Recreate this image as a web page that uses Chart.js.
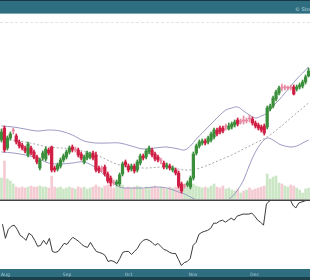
<!DOCTYPE html>
<html><head><meta charset="utf-8">
<script src="https://cdn.jsdelivr.net/npm/chart.js@4.4.1/dist/chart.umd.min.js"></script>
<style>
html,body{margin:0;padding:0;width:310px;height:280px;overflow:hidden;background:#fff;font-family:"DejaVu Sans",sans-serif}
.abs{position:absolute;left:0;width:310px}
#hdr{top:0;height:14px;background:#2f6e80;border-top:1px solid #163945;box-sizing:border-box}
#hdr2{top:13px;height:1px;background:#7ea6b2}
#htxt{position:absolute;left:295px;top:7px;font-size:5px;line-height:5px;color:#bcd6de;white-space:nowrap}
#leg{top:22px;height:0;border-top:1px dashed #e4e4e4}
#main{top:15px;height:184px}
#sep1{top:199px;height:1px;background:#9a9a9a}
#sep2{top:200px;height:1px;background:#444}
#ftr{top:269px;height:11px;background:#2f6e80}
#ftr2{top:277px;height:3px;background:#1b3f4b}
#low{top:201px;height:79px;z-index:2}
canvas{display:block}
</style></head>
<body>
<div class="abs" id="hdr"></div>
<div class="abs" id="hdr2"></div>
<div id="htxt">© StockCharts.com</div>
<div class="abs" id="leg"></div>
<div class="abs" id="sep1"></div>
<div class="abs" id="sep2"></div>
<div class="abs" id="ftr"></div>
<div class="abs" id="ftr2"></div>
<div class="abs" id="main"><canvas id="c1" width="310" height="184"></canvas></div>
<div class="abs" id="low"><canvas id="c2" width="310" height="79"></canvas></div>
<script>
// ---- data ----
const opens = [60,72,52,62,69,64,58,55,52,45, 52,48,43,32,42,41,50,53,32,31, 34,40,43,48,53,50,50,46,38,42, 43,47,45,32,31,33,26,22,18,16, 16,26,38,34,31,34,30,37,44,43, 48,50,46,43,39,37,33,34,30,30, 27,16,14,15,13,22,47,54,57,59, 58,60,63,70,72,72,73,71,73,75, 80,78,80,79,82,81,77,75,73,74, 73,91,94,101,107,113,112,112,113,113, 111,113,114,118,124];
const closes = [68,50,62,66,69.5,58,54,52,49,56, 47,43,38,40,47,51,47,30,30,35, 40,44,48,52,50,51,45,42,43,47, 46,42,30,29,31.5,26,19,17,17,18, 25,36,35,30,34,29,38,44,42,49, 52,45,41,40,39.5,33,35,32,32,27, 14,9,14.5,17,22,46,54,58,59,57, 62,66,70,66,68,69,73.5,74,76,78, 76,79,79,80,81,77,74,72,70,67, 92,94,102,108,112,112,113,112.5,112,106, 113,115,118,123,129];
const highs = [71,74,64,68,72,66,60,57,54,58, 54,50,45,42,49,53,52,54,34,37, 42,46,50,54,55,53,52,48,45,49, 48,49,48,34,34,35,28,24,20,20, 27,38,40,36,36,36,40,46,46,51, 54,52,48,45,42,39,37,36,34,32, 29,18,16,19,24,48,56,60,61,61, 64,68,72,72,74,74,76,77,78,80, 82,81,84,82,85,83,79,77,75,76, 94,96,104,110,114,116,115,114,115,115, 115,117,120,125,132];
const lows = [58,48,50,60,66,56,52,50,47,43, 45,41,36,30,40,39,45,28,28,29, 32,38,41,46,48,48,43,40,36,40, 41,40,28,27,28,24,17,14,15,14, 14,24,33,28,29,27,28,35,40,41, 46,43,39,38,36,31,31,30,28,25, 12,7,12,13,11,20,45,52,55,55, 56,58,61,64,66,67,70,70,71,73, 74,76,76,77,78,75,72,70,68,65, 71,89,92,99,105,109,110,110,110,105, 109,111,112,116,123];
const volumes = [21,38,20,18,15,12,11,12,11,12, 13,12,12,13,12,12,11,23,12,11, 12,10,11,12,11,10,12,11,12,10, 11,12,14,12,11,13,14,15,11,12, 13,14,11,12,11,12,13,12,10,12, 11,12,13,11,12,11,10,12,11,12, 14,15,12,11,13,15,13,12,11,12, 11,13,15,12,11,13,10,11,9,8, 10,6,8,9,11,9,10,11,12,13, 25,20,22,23,16,15,13,12,14,13, 11,9,6,10,11];
const rsLine = [45,31,40,43,44,40,34,32,29,36, 34,29,23,24,29,25,31,18,17,18, 22,26,25,29,32,30,28,25,23,22, 27,22,18,17,16,14,8,9,8,6, 11,17,18,18,15,18,21,26,29,30, 29,27,24,26,23,20,19,17,16,16, 10,4,7,8,11,24,27,35,37,38, 39,41,46,46,48,49,47,49,51,49, 53,54,55,55,55,56,53,49,47,44, 65,68,70,71,70,70,71,70,70,64, 61,66,67,68,69];
const bandIdx = [0,4,8,12,16,20,24,28,32,36,40,44,48,52,56,60,62,64,66,68,70,72,74,76,78,80,82,84,86,88,90,92,94,96,98,100,102,104];
const upperBand = [74,73,71,69,70,69,65,59,57,57,57,54,51,52,53,51,50,54,61,67,73,79,85,90,92,93,89,85,82,84,87,94,100,107,114,121,127,133];
const lowerBand = [48,47,45,42,37,36,37,38,32,22,13,12,12,13,12,8,6,3,0,-3,-5,-5,-4,-1,3,10,20,35,48,57,62,60,56,54,53,54,57,60];
const midIdx = [0,8,16,24,32,40,48,56,62,66,70,74,78,82,86,90,94,98,102,104];
const midBand = [61,58,53,51,45,35,32,33,30,31,35,40,45,51,57,63,72,82,92,97];
const tickIdx = [1,22,43,65,86];
const tickLabels = ['Aug','Sep','Oct','Nov','Dec'];

// ---- build ----
const labels = opens.map((_, i) => i);
const GREEN = '#3b8e3b', RED = '#cf1d43', PINK = '#e58aa2';
const candleColor = opens.map((o, i) => {
  const d = closes[i] - o;
  if (Math.abs(d) <= 1) return PINK;
  return d > 0 ? GREEN : RED;
});
const volColor = opens.map((o, i) => closes[i] >= o ? 'rgba(160,210,150,0.55)' : 'rgba(235,160,175,0.55)');
const pts = (idx, vals) => idx.map((x, k) => ({x, y: vals[k]}));

new Chart(document.getElementById('c1'), {
  type: 'bar',
  data: {
    labels,
    datasets: [
      {type:'bar', data: opens.map((o,i)=>[o, closes[i]]), backgroundColor: candleColor, borderWidth:0, barThickness:2.6, minBarLength:1, grouped:false, order:1, yAxisID:'y'},
      {type:'bar', data: lows.map((l,i)=>[l, highs[i]]), backgroundColor: candleColor, barThickness:1, grouped:false, order:2, yAxisID:'y'},
      {type:'line', data: pts(bandIdx, upperBand), borderColor:'#9c9ac2', borderWidth:1, pointRadius:0, tension:0.35, order:3, yAxisID:'y'},
      {type:'line', data: pts(bandIdx, lowerBand), borderColor:'#9c9ac2', borderWidth:1, pointRadius:0, tension:0.35, order:3, yAxisID:'y'},
      {type:'line', data: pts(midIdx, midBand), borderColor:'#a8a8a8', borderWidth:1, borderDash:[2,2], pointRadius:0, tension:0.35, order:4, yAxisID:'y'},
      {type:'bar', data: volumes, backgroundColor: volColor, barThickness:2, grouped:false, order:6, yAxisID:'yv'}
    ]
  },
  options: {
    responsive:false, animation:false, events:[],
    layout:{padding:0},
    plugins:{legend:{display:false}, tooltip:{enabled:false}},
    scales:{
      x:{type:'category', offset:true, display:false},
      y:{min:1, max:185, display:false},
      yv:{min:0, max:184, display:false}
    }
  }
});

new Chart(document.getElementById('c2'), {
  type: 'line',
  data: { labels, datasets: [{data: rsLine, borderColor:'#3a3a3a', borderWidth:1, pointRadius:0, tension:0}] },
  options: {
    responsive:false, animation:false, events:[],
    layout:{padding:0},
    plugins:{legend:{display:false}, tooltip:{enabled:false}},
    scales:{
      x:{type:'category', offset:true,
         grid:{display:false, drawTicks:false}, border:{display:false},
         ticks:{autoSkip:false, maxRotation:0, padding:2.5, color:'#a9c9d2', font:{size:4.5, family:'DejaVu Sans'},
                callback:(v, i) => { const k = tickIdx.indexOf(i); return k >= 0 ? tickLabels[k] : ''; }}},
      y:{min:0, max:68, display:false}
    }
  }
});
</script>
</body></html>
